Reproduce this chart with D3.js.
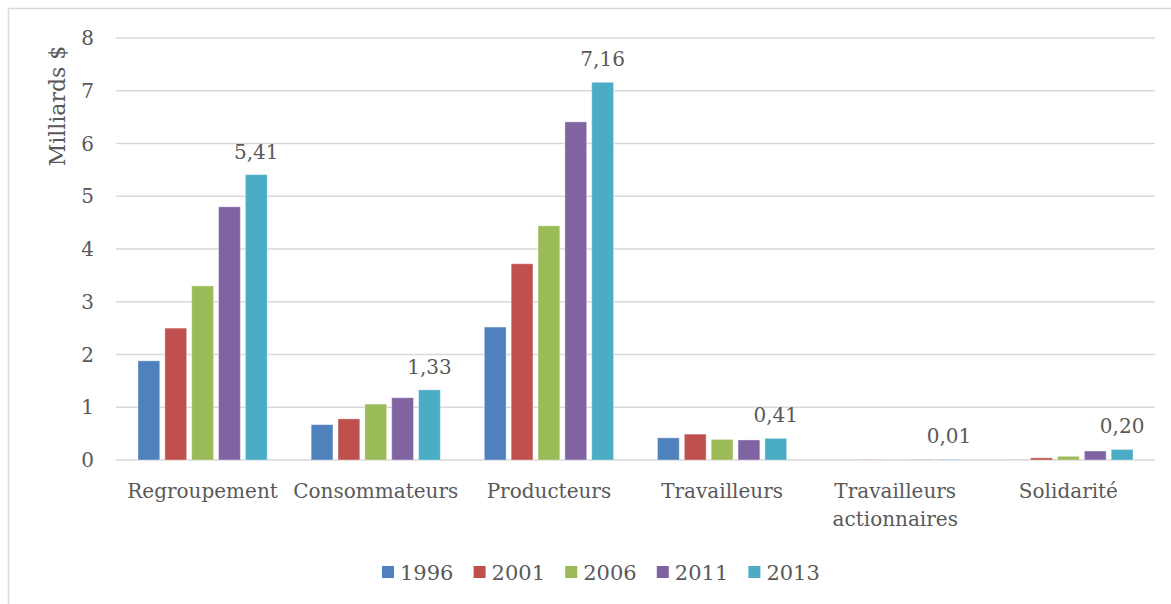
<!DOCTYPE html>
<html>
<head>
<meta charset="utf-8">
<script src="https://cdn.jsdelivr.net/npm/d3@7"></script>
<style>
  html, body { margin: 0; padding: 0; background: #fff; }
  svg { display: block; }
  text { font-family: "DejaVu Serif", serif; fill: #595959; }
</style>
</head>
<body>
<svg id="chart" width="1171" height="604"></svg>
<script>
// Categories and series (billions of dollars)
const categories = ["Regroupement", "Consommateurs", "Producteurs", "Travailleurs", "Travailleurs\nactionnaires", "Solidarité"];
const years = ["1996", "2001", "2006", "2011", "2013"];
const v1996 = [1.88, 0.67, 2.52, 0.42, 0.002, 0.003];
const v2001 = [2.50, 0.78, 3.72, 0.49, 0.004, 0.04];
const v2006 = [3.30, 1.06, 4.44, 0.39, 0.004, 0.07];
const v2011 = [4.80, 1.18, 6.41, 0.38, 0.006, 0.17];
const v2013 = [5.41, 1.33, 7.16, 0.41, 0.01, 0.20];
const yTicks = [0, 1, 2, 3, 4, 5, 6, 7, 8];
const colors = ["#4f81bd", "#c0504d", "#9bbb59", "#8064a2", "#4bacc6"];

const series = [v1996, v2001, v2006, v2011, v2013];
const svg = d3.select("#chart");

// Outer chart frame
svg.append("rect")
  .attr("x", 8.5).attr("y", 8.5)
  .attr("width", 1200).attr("height", 700)
  .attr("fill", "none").attr("stroke", "#d9d9d9").attr("stroke-width", 1.5);

const plot = { left: 116, right: 1155, top: 38, bottom: 460 };

const x = d3.scaleBand().domain(categories).range([plot.left, plot.right]).paddingInner(0).paddingOuter(0);
const xi = d3.scaleBand().domain(years).range([22, x.bandwidth() - 22]).paddingInner(0.19);
const y = d3.scaleLinear().domain([0, 8]).range([plot.bottom, plot.top]);

// Horizontal gridlines
svg.append("g").selectAll("line").data(yTicks).join("line")
  .attr("x1", plot.left).attr("x2", plot.right)
  .attr("y1", d => y(d)).attr("y2", d => y(d))
  .attr("stroke", "#d9d9d9").attr("stroke-width", 1.5);

// Y tick labels
svg.append("g").selectAll("text").data(yTicks).join("text")
  .attr("x", 94).attr("y", d => y(d))
  .attr("dy", "0.35em").attr("text-anchor", "end")
  .attr("font-size", 20)
  .text(d => d);

// Y axis title
svg.append("text")
  .attr("transform", "translate(65,106) rotate(-90)")
  .attr("text-anchor", "middle").attr("font-size", 22)
  .text("Milliards $");

// Bars
const groups = svg.append("g").selectAll("g").data(categories).join("g")
  .attr("transform", d => `translate(${x(d)},0)`);

groups.selectAll("rect")
  .data((c, i) => years.map((yr, k) => ({ yr, k, v: series[k][i] })))
  .join("rect")
  .attr("x", d => xi(d.yr))
  .attr("width", xi.bandwidth())
  .attr("y", d => y(d.v))
  .attr("height", d => plot.bottom - y(d.v))
  .attr("fill", d => colors[d.k])
  .attr("stroke", "#ffffff").attr("stroke-opacity", 0.35).attr("stroke-width", 1);

// Value labels on the 2013 series
groups.append("text")
  .attr("x", xi("2013") + xi.bandwidth() / 2)
  .attr("y", (c, i) => y(v2013[i]) - 16)
  .attr("text-anchor", "middle").attr("font-size", 20)
  .text((c, i) => d3.format(".2f")(v2013[i]).replace(".", ","));

// Category labels
groups.append("text")
  .attr("text-anchor", "middle").attr("font-size", 20)
  .attr("x", x.bandwidth() / 2)
  .selectAll("tspan")
  .data(c => c.split("\n"))
  .join("tspan")
  .attr("x", x.bandwidth() / 2)
  .attr("y", (d, j) => 498 + j * 28)
  .text(d => d);

// Legend
const legend = svg.append("g").selectAll("g").data(years).join("g")
  .attr("transform", (d, i) => `translate(${382 + i * 91.6},566)`);
legend.append("rect").attr("width", 12).attr("height", 12).attr("fill", (d, i) => colors[i]);
legend.append("text").attr("x", 18).attr("y", 6).attr("dy", "0.36em")
  .attr("font-size", 21).text(d => d);
</script>
</body>
</html>
